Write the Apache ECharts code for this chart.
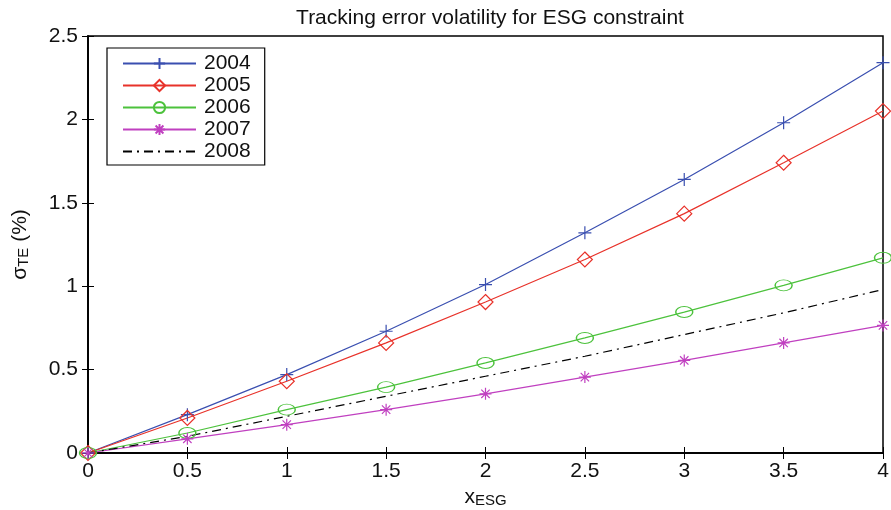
<!DOCTYPE html>
<html><head><meta charset="utf-8">
<script src="https://cdn.jsdelivr.net/npm/echarts@6/dist/echarts.min.js"></script>
<style>html,body{margin:0;padding:0;background:#fff}#c{width:891px;height:510px}</style>
</head><body><div id="c"></div>
<script>
const xValues = [0, 0.5, 1, 1.5, 2, 2.5, 3, 3.5, 4];
const s2004 = [0, 0.23, 0.47, 0.73, 1.01, 1.32, 1.64, 1.98, 2.34];
const s2005 = [0, 0.21, 0.43, 0.66, 0.905, 1.16, 1.435, 1.74, 2.05];
const s2006 = [0, 0.12, 0.26, 0.395, 0.54, 0.69, 0.845, 1.005, 1.17];
const s2007 = [0, 0.085, 0.17, 0.26, 0.355, 0.455, 0.555, 0.66, 0.765];
const s2008 = [0, 0.1, 0.22, 0.34, 0.46, 0.58, 0.71, 0.84, 0.98];
const seriesNames = ['2004', '2005', '2006', '2007', '2008'];
const titleText = 'Tracking error volatility for ESG constraint';

const FONT = 'Liberation Sans, Arial, Helvetica, sans-serif';
const FS = 21;
const pair = arr => xValues.map((x, i) => [x, arr[i]]);

const plusPath = 'path://M0,5L10,5M5,0L5,10';
const starPath = 'path://M0,5L10,5M5,0L5,10M1.5,1.5L8.5,8.5M8.5,1.5L1.5,8.5';
const ellPath = 'path://M0,5A8,5,0,1,1,16,5A8,5,0,1,1,0,5Z';

function mk(name, data, color, symbol, size, lineType, hideSym) {
  return {
    name, type: 'line', data: pair(data), xAxisIndex: 0, yAxisIndex: 0,
    symbol, symbolSize: size, showSymbol: !hideSym,
    lineStyle: { color, width: 1.2, type: lineType || 'solid' },
    itemStyle: { color: 'transparent', borderColor: hideSym ? 'transparent' : color, borderWidth: 1.2 },
    emphasis: { disabled: true }, animation: false
  };
}

const axisCommon = {
  min: 0, axisLine: { show: true, lineStyle: { color: '#000', width: 1.5 } },
  axisTick: { show: true, inside: true, length: 6, lineStyle: { color: '#000', width: 1 } },
  splitLine: { show: false }
};

const chart = echarts.init(document.getElementById('c'));
chart.setOption({
  backgroundColor: '#fff',
  title: { text: titleText, left: 485, textAlign: 'center', top: 3,
    textStyle: { fontFamily: FONT, fontSize: 21, fontWeight: 'normal', color: '#111' } },
  grid: { left: 88, right: 8, top: 36, bottom: 57, show: true, borderColor: '#000', borderWidth: 1.5,
    backgroundColor: 'transparent', outerBoundsMode: 'none', containLabel: false },
  legend: {
    left: 107, top: 48, orient: 'vertical', data: seriesNames,
    itemWidth: 73, itemHeight: 14, itemGap: 1,
    padding: [5, 14, 3, 15], borderColor: '#000', borderWidth: 1.2, backgroundColor: '#fff',
    textStyle: { fontFamily: FONT, fontSize: FS, lineHeight: 21, color: '#111', padding: [0, 0, 0, 3] },
    selectedMode: false
  },
  xAxis: [
    Object.assign({}, axisCommon, { type: 'value', max: 4, interval: 0.5, position: 'bottom',
      axisLabel: { fontFamily: FONT, fontSize: FS, color: '#111', margin: 8 },
      name: '{a|x}{b|ESG}', nameLocation: 'middle', nameGap: 28,
      nameTextStyle: { rich: {
        a: { fontFamily: FONT, fontSize: FS, color: '#111', verticalAlign: 'bottom' },
        b: { fontFamily: FONT, fontSize: 15, color: '#111', verticalAlign: 'bottom', padding: [8, 0, 0, 0] } } } }),
    Object.assign({}, axisCommon, { type: 'value', max: 4, interval: 0.5, position: 'top',
      axisLabel: { show: false } })
  ],
  yAxis: [
    Object.assign({}, axisCommon, { type: 'value', max: 2.5, interval: 0.5, position: 'left',
      axisLabel: { fontFamily: FONT, fontSize: FS, color: '#111', margin: 10 },
      name: '{a|σ}{b|TE}{a| (%)}', nameLocation: 'middle', nameGap: 57, nameRotate: 90,
      nameTextStyle: { rich: {
        a: { fontFamily: FONT, fontSize: FS, color: '#111', verticalAlign: 'bottom' },
        b: { fontFamily: FONT, fontSize: 15, color: '#111', verticalAlign: 'bottom', padding: [8, 0, 0, 0] } } } }),
    Object.assign({}, axisCommon, { type: 'value', max: 2.5, interval: 0.5, position: 'right',
      axisLabel: { show: false } })
  ],
  series: [
    mk('2004', s2004, '#3a4fb0', plusPath, 13),
    mk('2005', s2005, '#e8322a', 'diamond', 15),
    mk('2006', s2006, '#4cc23c', ellPath, [17, 11]),
    mk('2007', s2007, '#c040c0', starPath, 12),
    mk('2008', s2008, '#000', 'circle', 1, [9, 5, 2, 5], true)
  ]
});
</script></body></html>
